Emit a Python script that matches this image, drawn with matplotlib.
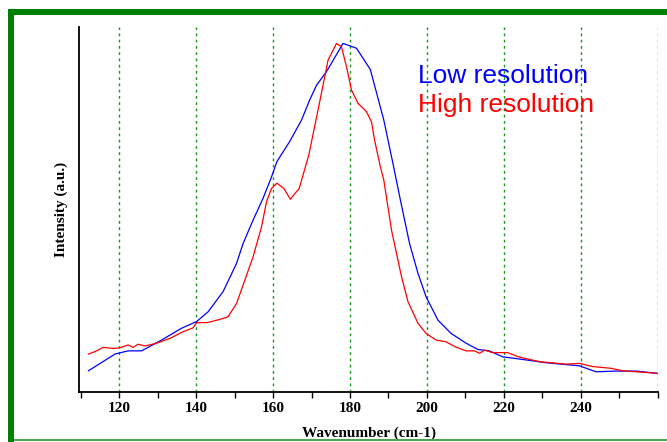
import matplotlib
matplotlib.use("Agg")
import matplotlib.pyplot as plt
from matplotlib.patches import Rectangle
from matplotlib.ticker import MultipleLocator

# Low resolution spectrum (wavenumber, intensity a.u.)
low_x = [112.0, 118.9, 122.3, 125.8, 131.0, 136.2, 140.1, 143.1, 147.0, 150.5,
         152.2, 154.8, 157.4, 159.6, 161.0, 164.3, 167.4, 169.5, 171.3, 173.9,
         178.2, 181.7, 185.3, 188.8, 191.0, 193.3, 195.5, 197.7, 199.8, 202.9,
         206.3, 210.2, 213.3, 216.3, 219.7, 225.8, 231.0, 239.7, 244.0, 249.2,
         254.4, 259.6, 260.0]
low_y = [6.1, 10.9, 11.8, 11.8, 14.9, 18.3, 20.2, 23.0, 28.8, 36.9,
         42.6, 49.3, 55.6, 61.7, 66.1, 71.8, 78.0, 83.7, 88.0, 91.9,
         100.0, 98.6, 92.5, 78.0, 66.5, 54.1, 42.6, 34.0, 27.3, 20.6,
         16.8, 14.0, 12.2, 11.8, 10.1, 9.2, 8.4, 7.5, 5.8, 6.0,
         6.0, 5.4, 5.3]

# High resolution spectrum
high_x = [112.0, 113.7, 115.8, 118.4, 120.2, 122.3, 123.6, 124.9, 126.7, 129.7,
          133.2, 136.6, 139.2, 140.1, 142.7, 144.0, 147.0, 148.3, 150.5, 152.4,
          154.8, 157.0, 158.3, 159.6, 161.0, 162.8, 164.5, 166.8, 169.3, 171.9,
          174.3, 176.5, 177.8, 179.1, 180.4, 182.1, 184.3, 185.6, 186.4, 187.8,
          188.8, 190.8, 193.4, 195.1, 197.7, 199.8, 202.4, 205.0, 207.5, 210.2,
          212.4, 213.7, 215.0, 217.1, 221.0, 224.1, 229.3, 236.2, 239.7, 243.1,
          247.9, 250.9, 254.4, 259.6, 260.0]
high_y = [10.9, 11.6, 12.8, 12.5, 12.7, 13.5, 12.8, 13.7, 13.2, 14.0,
          15.4, 17.3, 18.4, 19.9, 19.9, 20.2, 21.1, 21.6, 25.4, 31.3,
          38.8, 47.4, 54.6, 58.4, 59.9, 58.4, 55.3, 58.4, 68.0, 82.0,
          95.2, 100.0, 99.0, 93.3, 86.6, 82.8, 80.4, 77.5, 72.3, 65.1,
          60.8, 46.5, 33.1, 25.9, 19.7, 16.8, 14.9, 14.4, 12.9, 11.8,
          11.8, 11.1, 12.0, 11.3, 11.3, 10.0, 8.7, 8.0, 8.2, 7.3,
          6.8, 6.1, 5.8, 5.4, 5.3]

grid_ticks = [120, 140, 160, 180, 200, 220, 240, 260]
tick_labels = ['120', '140', '160', '180', '200', '220', '240', '']

W, H = 667, 442
fig = plt.figure(figsize=(W / 100, H / 100), dpi=100)
ax = fig.add_axes([79.3 / W, 50 / H, 579 / W, 365 / H])

# green frame around the picture
green = '#008000'
fig.add_artist(Rectangle((8 / W, 1 - 15 / H), 1, 6 / H, transform=fig.transFigure,
                         color=green, lw=0))
fig.add_artist(Rectangle((8 / W, 0), 6 / W, 1 - 9 / H, transform=fig.transFigure,
                         color=green, lw=0))
fig.add_artist(Rectangle((14 / W, 1.2 / H), 1, 1.6 / H, transform=fig.transFigure,
                         color='#4ca64c', lw=0))

for g in grid_ticks:
    ax.axvline(g, color='#1a961a', lw=1.0, ls=(0, (2, 2.5)), zorder=0)

ax.plot(low_x, low_y, color='#0000ff', lw=0.9)
ax.plot(high_x, high_y, color='#ff0000', lw=0.9)

ax.set_xlim(109.6, 260.2)
ax.set_ylim(0, 104.7)

serif = dict(fontfamily='Liberation Serif', fontweight='bold', fontsize=11)
ax.set_xticks(grid_ticks)
ax.set_xticklabels(tick_labels, **serif)
ax.xaxis.set_minor_locator(MultipleLocator(10))
ax.tick_params(axis='x', which='both', direction='out', length=4, width=1, pad=3.5)
ax.set_yticks([])

for s in ['top', 'right']:
    ax.spines[s].set_visible(False)
for s in ['left', 'bottom']:
    ax.spines[s].set_linewidth(1.3)

ax.set_xlabel('Wavenumber (cm-1)', labelpad=8, **serif)
ax.set_ylabel('Intensity (a.u.)', labelpad=8, **serif)

ax.text(0.585, 0.8466, 'Low resolution', transform=ax.transAxes, color='#0000ff',
        fontfamily='Liberation Sans', fontsize=19, va='baseline')
ax.text(0.585, 0.767, 'High resolution', transform=ax.transAxes, color='#ff0000',
        fontfamily='Liberation Sans', fontsize=19, va='baseline')

fig.savefig('out.png', dpi=100)
